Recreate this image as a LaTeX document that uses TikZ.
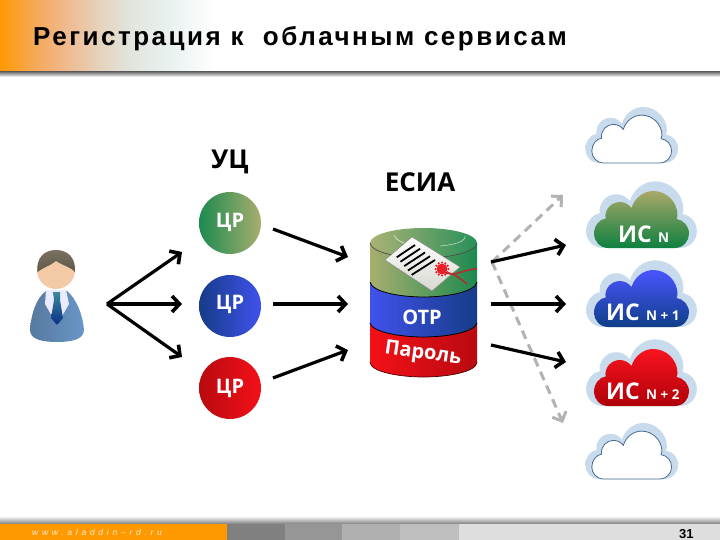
\documentclass[tikz,border=0pt]{standalone}
\usepackage{fontspec}
\setmainfont{Liberation Sans}
\newfontfamily\lbl{Open Sans}
\usetikzlibrary{arrows.meta}
\definecolor{orng}{HTML}{FF9900}
\definecolor{gA}{HTML}{1C8A50}\definecolor{gB}{HTML}{A8AE6E}
\definecolor{bA}{HTML}{163C88}\definecolor{bB}{HTML}{4052EC}
\definecolor{rA}{HTML}{B80A10}\definecolor{rB}{HTML}{F41018}
\definecolor{f1}{HTML}{808080}\definecolor{f2}{HTML}{969696}\definecolor{f3}{HTML}{B0B0B0}\definecolor{f4}{HTML}{BEBEBE}\definecolor{f5}{HTML}{DEDEDE}
\definecolor{suitL}{HTML}{56799E}\definecolor{suitR}{HTML}{6A96C8}
\definecolor{tieT}{HTML}{3A8A9A}\definecolor{tieB}{HTML}{0A2F8A}
\definecolor{skin}{HTML}{F3C9A6}\definecolor{hairT}{HTML}{7A7260}\definecolor{hairB}{HTML}{5E5848}
\definecolor{paperB}{HTML}{D8D8D0}\definecolor{ribbon}{HTML}{B03030}\definecolor{seal}{HTML}{E8202A}
\definecolor{cgT}{HTML}{AAA868}\definecolor{cgB}{HTML}{0E8040}
\definecolor{cbT}{HTML}{4A55FF}\definecolor{cbB}{HTML}{103E88}
\definecolor{crT}{HTML}{F81420}\definecolor{crB}{HTML}{B00008}
\definecolor{c1}{HTML}{C8DBEC}\definecolor{c2}{HTML}{E6EAEE}\definecolor{cloudline}{HTML}{4A6A90}
\definecolor{hA}{HTML}{F6A64E}\definecolor{hB}{HTML}{F0B88C}\definecolor{hC}{HTML}{E6D2BC}\definecolor{hD}{HTML}{E0E4DC}\definecolor{hE}{HTML}{EAF2F2}
\newcommand\cloudpath{(-33,0) .. controls (-42,0) and (-47.5,-7) .. (-47.5,-14.3) .. controls (-47.5,-22) and (-42,-29) .. (-36,-29.5)
 .. controls (-37,-39) and (-30,-46) .. (-21.5,-46) .. controls (-17,-46) and (-12.5,-43.5) .. (-10,-40)
 .. controls (-7,-50) and (2,-57) .. (11.8,-57) .. controls (25,-57) and (36,-46) .. (36,-33) .. controls (36,-31) and (35.5,-30) .. (35,-29)
 .. controls (42,-28) and (47.5,-22) .. (47.5,-14.3) .. controls (47.5,-7) and (42,0) .. (33,0) -- cycle}
\newcommand\halo[2]{\begin{scope}[shift={(#1,#2)},xscale=1.165,yscale=1.17]
 \shade[left color=c1,middle color=c2,right color=c1] \cloudpath;\end{scope}}
\newcommand\colcloud[4]{\halo{#1}{#2}
 \begin{scope}[shift={(#1,#2)}]\shade[top color=#3,bottom color=#4] \cloudpath;\end{scope}}
\newcommand\whitecloud[2]{\begin{scope}[shift={(#1,#2)},scale=0.84]
 \begin{scope}[xscale=1.165,yscale=1.17]\shade[left color=c1,middle color=c2,right color=c1] \cloudpath;\end{scope}
 \fill[white] \cloudpath; \draw[draw=cloudline,line width=.8pt] \cloudpath;\end{scope}}
\tikzset{
 bar/.style={line width=3.2pt,-{Straight Barb[length=7.5pt,width=16pt,line width=3.6pt]}},
 dashbar/.style={draw=gray!60,line width=3pt,dash pattern=on 9pt off 6pt,-{Straight Barb[length=7.5pt,width=15pt,line width=3pt]}},
 head/.style={font=\lbl\bfseries\fontsize{26}{26}\selectfont,text=black,inner sep=0pt},
 cr/.style={font=\lbl\bfseries\fontsize{20}{20}\selectfont,text=white,inner sep=0pt},
 ist/.style={font=\lbl\bfseries\fontsize{23}{23}\selectfont,text=white,inner sep=0pt,anchor=base west},
 sub/.style={font=\lbl\bfseries\fontsize{13.5}{13.5}\selectfont,text=white,inner sep=0pt,anchor=base west},
 cyl/.style={font=\lbl\bfseries\fontsize{20}{20}\selectfont,text=white,inner sep=0pt},
}
\pgfdeclarehorizontalshading{hdr}{100bp}{color(0bp)=(orng);color(25bp)=(orng);color(32bp)=(hA);color(40bp)=(hB);color(48bp)=(hC);color(55bp)=(hD);color(65bp)=(hE);color(75bp)=(white);color(100bp)=(white)}
\begin{document}
\begin{tikzpicture}[x=1pt,y=-1pt]
\useasboundingbox (0,0) rectangle (720,540);
\fill[white] (0,0) rectangle (720,540);
% header
\shade[shading=hdr] (0,0) rectangle (215,72);
\shade[top color=gray!90!black,bottom color=white] (0,72) rectangle (720,77);
\node[anchor=base west,inner sep=0pt,font=\bfseries\fontsize{26}{26}\selectfont\addfontfeature{LetterSpace=9.6}] (title) at (33,46) {Регистрация к\ \ облачным сервисам};
% footer
\shade[top color=white,bottom color=gray] (0,516) rectangle (720,524);
\fill[orng] (0,524) rectangle (227,540);
\fill[f1] (227,524) rectangle (285,540);
\fill[f2] (285,524) rectangle (342,540);
\fill[f3] (342,524) rectangle (400,540);
\fill[f4] (400,524) rectangle (459,540);
\fill[f5] (459,524) rectangle (720,540);
\node[anchor=base west,inner sep=0pt,text=white!85!orange,font=\itshape\fontsize{8.5}{8.5}\selectfont\addfontfeature{LetterSpace=44}] (url) at (32,535.5) {www.aladdin–rd.ru};
\node[anchor=base west,inner sep=0pt,font=\bfseries\fontsize{13}{13}\selectfont] (page) at (679,538) {31};
% person
\shade[left color=suitL,right color=suitR] (30,330) .. controls (31,315) and (36,298) .. (46,291) -- (67,291) .. controls (76,298) and (83,315) .. (84,330) .. controls (84,340) and (70,342) .. (57,342) .. controls (44,342) and (30,340) .. (30,330) -- cycle;
\fill[white!92!blue] (46,290) -- (66,290) -- (69,304) -- (57,325) -- (45,304) -- cycle;
\shade[top color=tieT,bottom color=tieB] (53,292) -- (60,292) -- (60,300) -- (63,318) -- (57,325) -- (51,318) -- (54,300) -- cycle;
\fill[skin] (56,270) circle (19);
\shade[top color=hairT,bottom color=hairB] (37.5,272) .. controls (36,258) and (44,250) .. (56,250) .. controls (68,250) and (76,258) .. (75,272) .. controls (72,268) and (64,266) .. (56,261) .. controls (50,266) and (42,268) .. (37.5,272) -- cycle;
% hub & tips
\coordinate (hub) at (107,304);
\coordinate (t1) at (182,252);\coordinate (t2) at (182,304);\coordinate (t3) at (182,357);
\draw[bar] (hub) -- (t1);\draw[bar] (hub) -- (t2);\draw[bar] (hub) -- (t3);
% CA circles
\node[head] (uc) at (230,162) {УЦ};
\shade[left color=gA,right color=gB] (230,223) circle (31);
\shade[left color=bA,right color=bB] (230,306) circle (31);
\shade[left color=rA,right color=rB] (230,388) circle (31);
\node[cr] (c1n) at (230,222) {ЦР};
\node[cr] (c2n) at (230,304) {ЦР};
\node[cr] (c3n) at (230,388) {ЦР};
\coordinate (a1s) at (273,229);\coordinate (a1e) at (348,257);
\coordinate (a2s) at (273,304);\coordinate (a2e) at (348,304);
\coordinate (a3s) at (273,378);\coordinate (a3e) at (348,350);
\draw[bar] (a1s) -- (a1e);\draw[bar] (a2s) -- (a2e);\draw[bar] (a3s) -- (a3e);
% cylinder
\node[head] (esia) at (420,182) {ЕСИА};
\shade[left color=rB,right color=rA] (370,323) -- (370,362) .. controls (370,372) and (400,377) .. (423.5,377) .. controls (447,377) and (477,372) .. (477,362) -- (477,323) -- cycle;
\draw[line width=.7pt,draw=black!70!red] (370,362) .. controls (370,372) and (400,377) .. (423.5,377) .. controls (447,377) and (477,372) .. (477,362);
\shade[left color=bB,right color=bA] (370,282) -- (370,323) .. controls (372,332) and (400,337) .. (423.5,337) .. controls (447,337) and (475,332) .. (477,323) -- (477,282) -- cycle;
\draw[line width=.8pt] (370,323) .. controls (372,332) and (400,337) .. (423.5,337) .. controls (447,337) and (475,332) .. (477,323);
\shade[left color=gB,right color=gA] (370,243) -- (370,282) .. controls (372,292) and (400,297) .. (423.5,297) .. controls (447,297) and (475,292) .. (477,282) -- (477,243) -- cycle;
\draw[line width=.8pt] (370,282) .. controls (372,292) and (400,297) .. (423.5,297) .. controls (447,297) and (475,292) .. (477,282);
\shade[left color=gB!95!white,right color=gA!95!white] (423.5,243) ellipse (53.5 and 15);
\draw[line width=.7pt,draw=black!70] (370,243) .. controls (372,253) and (400,258) .. (423.5,258) .. controls (447,258) and (475,253) .. (477,243);
\draw[white!70!gB,line width=.6pt] (394,235) .. controls (396,242) and (410,246) .. (424,246);
\draw[white!70!gA,line width=.6pt] (440,246) .. controls (455,245) and (466,241) .. (465,236);
% certificate
\shade[top color=white,bottom color=paperB] (412,237) -- (460,267) -- (432,291) -- (385,260) -- cycle;
\draw[gray,line width=.4pt] (412,237) -- (460,267) -- (432,291) -- (385,260) -- cycle;
\foreach \i in {0,...,4}{
 \draw[black,line width=1.8pt] (396.7+\i*3.75,257.3+\i*4.4) -- (415+\i*5,245+\i*3.75);
}
\draw[ribbon,line width=1.6pt] (442,271) .. controls (455,279) and (465,268) .. (477,269);
\draw[ribbon,line width=1.6pt] (445,273) .. controls (452,272) and (460,278) .. (467,284);
\fill[seal] (442,269) circle (5.5);
\foreach \a in {0,30,...,330}{\fill[seal] (442,269) ++(\a:6.5) circle (1.2);}
% cylinder text
\node[cyl] (otp) at (422,317) {ОТР};
\node[cyl,rotate=-8] (pwd) at (423,354) {Пароль};
% outgoing
\coordinate (o1) at (491,262);\coordinate (o2) at (491,304);\coordinate (o3) at (491,345);
\coordinate (e1) at (566,245);\coordinate (e2) at (566,304);\coordinate (e3) at (566,362);
\coordinate (d0) at (492,262);\coordinate (d1) at (563,195);\coordinate (d2) at (563,423);
\draw[dashbar] (d0) -- (d1);\draw[dashbar] (d0) -- (d2);
\draw[bar] (o1) -- (e1);\draw[bar] (o2) -- (e2);\draw[bar] (o3) -- (e3);
% clouds
\whitecloud{631.7}{163}
\colcloud{641.5}{248}{cgT}{cgB}
\colcloud{641.5}{327}{cbT}{cbB}
\colcloud{641.5}{406}{crT}{crB}
\whitecloud{631.7}{479}
\node[ist] (is1) at (618,242) {ИС};
\node[sub] (n1) at (658,242) {N};
\node[ist] (is2) at (606,320) {ИС};
\node[sub] (n2) at (646,320) {N + 1};
\node[ist] (is3) at (606,399) {ИС};
\node[sub] (n3) at (646,399) {N + 2};
\end{tikzpicture}
\end{document}
